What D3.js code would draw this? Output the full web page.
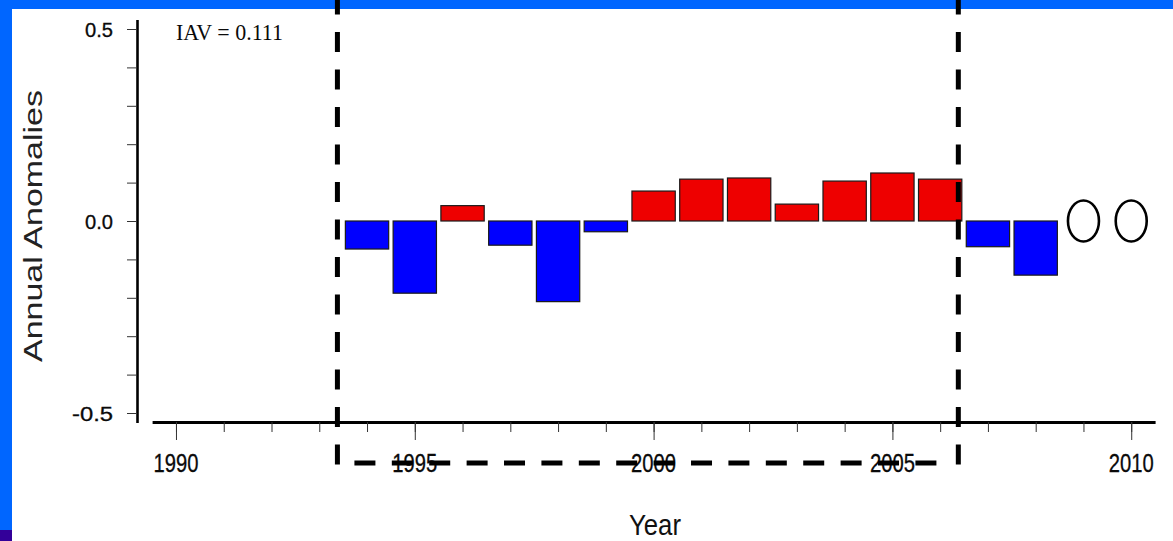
<!DOCTYPE html>
<html>
<head>
<meta charset="utf-8">
<script src="https://cdn.jsdelivr.net/npm/d3@7"></script>
<style>
  html, body { margin: 0; padding: 0; background: #ffffff; }
  svg { display: block; }
  text { font-family: "Liberation Sans", Arial, sans-serif; fill: #0a0a0a; }
</style>
</head>
<body>
<svg id="chart" width="1173" height="541"></svg>
<script>
// Annual anomalies per year
const years = [1994, 1995, 1996, 1997, 1998, 1999, 2000, 2001, 2002, 2003, 2004, 2005, 2006, 2007, 2008];
const anomalies = [-0.073, -0.188, 0.040, -0.063, -0.210, -0.028, 0.078, 0.109, 0.112, 0.044, 0.104, 0.125, 0.109, -0.067, -0.141];
// Years without a value yet, shown as open markers
const missingYears = [2009, 2010];
// Axis ticks
const xMajorTicks = [1990, 1995, 2000, 2005, 2010];
const xTickLabels = ["1990", "1995", "2000", "2005", "2010"];
const yMajorTicks = [-0.5, 0.0, 0.5];
const yTickLabels = ["-0.5", "0.0", "0.5"];
const iav = 0.111;

const W = 1173, H = 541;
const svg = d3.select("#chart");

// slide frame
svg.append("rect").attr("x", 0).attr("y", 0).attr("width", W).attr("height", H).attr("fill", "#ffffff");
svg.append("rect").attr("x", 0).attr("y", 0).attr("width", W).attr("height", 9).attr("fill", "#0066ff");
svg.append("rect").attr("x", 0).attr("y", 0).attr("width", 12).attr("height", 530).attr("fill", "#0066ff");
svg.append("rect").attr("x", 0).attr("y", 530).attr("width", 12).attr("height", 11).attr("fill", "#330099");

// scales
const x = d3.scaleLinear().domain([1989.5, 2010.5]).range([152.1, 1155.1]);
const y = d3.scaleLinear().domain([-0.525, 0.525]).range([422.6, 19.4]);

// x axis: yearly minor ticks, labelled ticks every 5 years
const xAxisY = 422;
const gx = svg.append("g").attr("transform", `translate(0,${xAxisY})`);
gx.call(d3.axisBottom(x).tickValues(d3.range(1990, 2011)).tickSize(10).tickSizeOuter(0).tickFormat(""));
gx.select(".domain").attr("stroke-width", 3.2).attr("stroke", "#000");
gx.selectAll(".tick line").attr("stroke", "#333").attr("stroke-width", 1);
const gx2 = svg.append("g").attr("transform", `translate(0,${xAxisY})`);
gx2.call(d3.axisBottom(x).tickValues(xMajorTicks).tickSize(18).tickSizeOuter(0).tickFormat(""));
gx2.select(".domain").remove();
gx2.selectAll(".tick line").attr("stroke", "#333").attr("stroke-width", 1);

svg.append("g").selectAll("text").data(xMajorTicks).join("text")
  .attr("x", d => x(d)).attr("y", 472)
  .attr("text-anchor", "middle")
  .style("font-size", "25px")
  .style("stroke", "#0a0a0a").style("stroke-width", "0.3px")
  .attr("textLength", 45).attr("lengthAdjust", "spacingAndGlyphs")
  .text((d, i) => xTickLabels[i]);

// y axis with 0.1 minor ticks
const gy = svg.append("g").attr("transform", "translate(137,0)");
gy.call(d3.axisLeft(y).tickValues(d3.range(-5, 6).map(i => i / 10)).tickSize(10).tickSizeOuter(0).tickFormat(""));
gy.select(".domain").attr("stroke-width", 2.6).attr("stroke", "#000");
gy.selectAll(".tick line").attr("stroke", "#333").attr("stroke-width", 1);

svg.append("g").selectAll("text").data(yMajorTicks).join("text")
  .attr("x", 113).attr("y", d => y(d) + 7.5)
  .attr("text-anchor", "end")
  .style("font-size", "20px")
  .style("stroke", "#0a0a0a").style("stroke-width", "0.3px")
  .attr("textLength", (d, i) => yTickLabels[i].length === 4 ? 41 : 28)
  .attr("lengthAdjust", "spacingAndGlyphs")
  .text((d, i) => yTickLabels[i]);

// bars
const barW = 0.907;
svg.append("g").selectAll("rect").data(years).join("rect")
  .attr("x", d => x(d - barW / 2))
  .attr("width", d => x(d + barW / 2) - x(d - barW / 2))
  .attr("y", (d, i) => y(Math.max(0, anomalies[i])))
  .attr("height", (d, i) => Math.abs(y(anomalies[i]) - y(0)))
  .attr("fill", (d, i) => anomalies[i] >= 0 ? "#ee0000" : "#0000ff")
  .attr("stroke", "#1a1a1a").attr("stroke-width", 1.2);

// open markers for missing years
svg.append("g").selectAll("ellipse").data(missingYears).join("ellipse")
  .attr("cx", d => x(d)).attr("cy", y(0))
  .attr("rx", 15.5).attr("ry", 20.5)
  .attr("fill", "none").attr("stroke", "#000").attr("stroke-width", 2.6);

// reference period box (dashed)
const periodStart = 1993.38, periodEnd = 2006.38, boxBottom = 463;
const dash = svg.append("g").attr("stroke", "#000").attr("stroke-width", 5).attr("fill", "none");
[periodStart, periodEnd].forEach(p => {
  dash.append("line")
    .attr("x1", x(p)).attr("x2", x(p))
    .attr("y1", 0).attr("y2", boxBottom + 2)
    .attr("stroke-dasharray", "20 17.5").attr("stroke-dashoffset", 5.5);
});
dash.append("line")
  .attr("x1", x(periodStart) + 17).attr("x2", x(periodEnd) - 20)
  .attr("y1", boxBottom).attr("y2", boxBottom)
  .attr("stroke-dasharray", "21 16.4");

// annotations
svg.append("text")
  .attr("x", 176).attr("y", 40)
  .style("font-family", "'Liberation Serif', 'Times New Roman', serif")
  .style("font-size", "24px")
  .attr("textLength", 107).attr("lengthAdjust", "spacingAndGlyphs")
  .text(`IAV = ${iav}`);

svg.append("text")
  .attr("transform", "translate(42,226) rotate(-90)")
  .attr("text-anchor", "middle")
  .style("font-size", "26.5px")
  .style("fill", "#222")
  .attr("textLength", 272).attr("lengthAdjust", "spacingAndGlyphs")
  .text("Annual Anomalies");

svg.append("text")
  .attr("x", 655).attr("y", 535)
  .attr("text-anchor", "middle")
  .style("font-size", "30px")
  .style("fill", "#111")
  .attr("textLength", 52).attr("lengthAdjust", "spacingAndGlyphs")
  .text("Year");
</script>
</body>
</html>
